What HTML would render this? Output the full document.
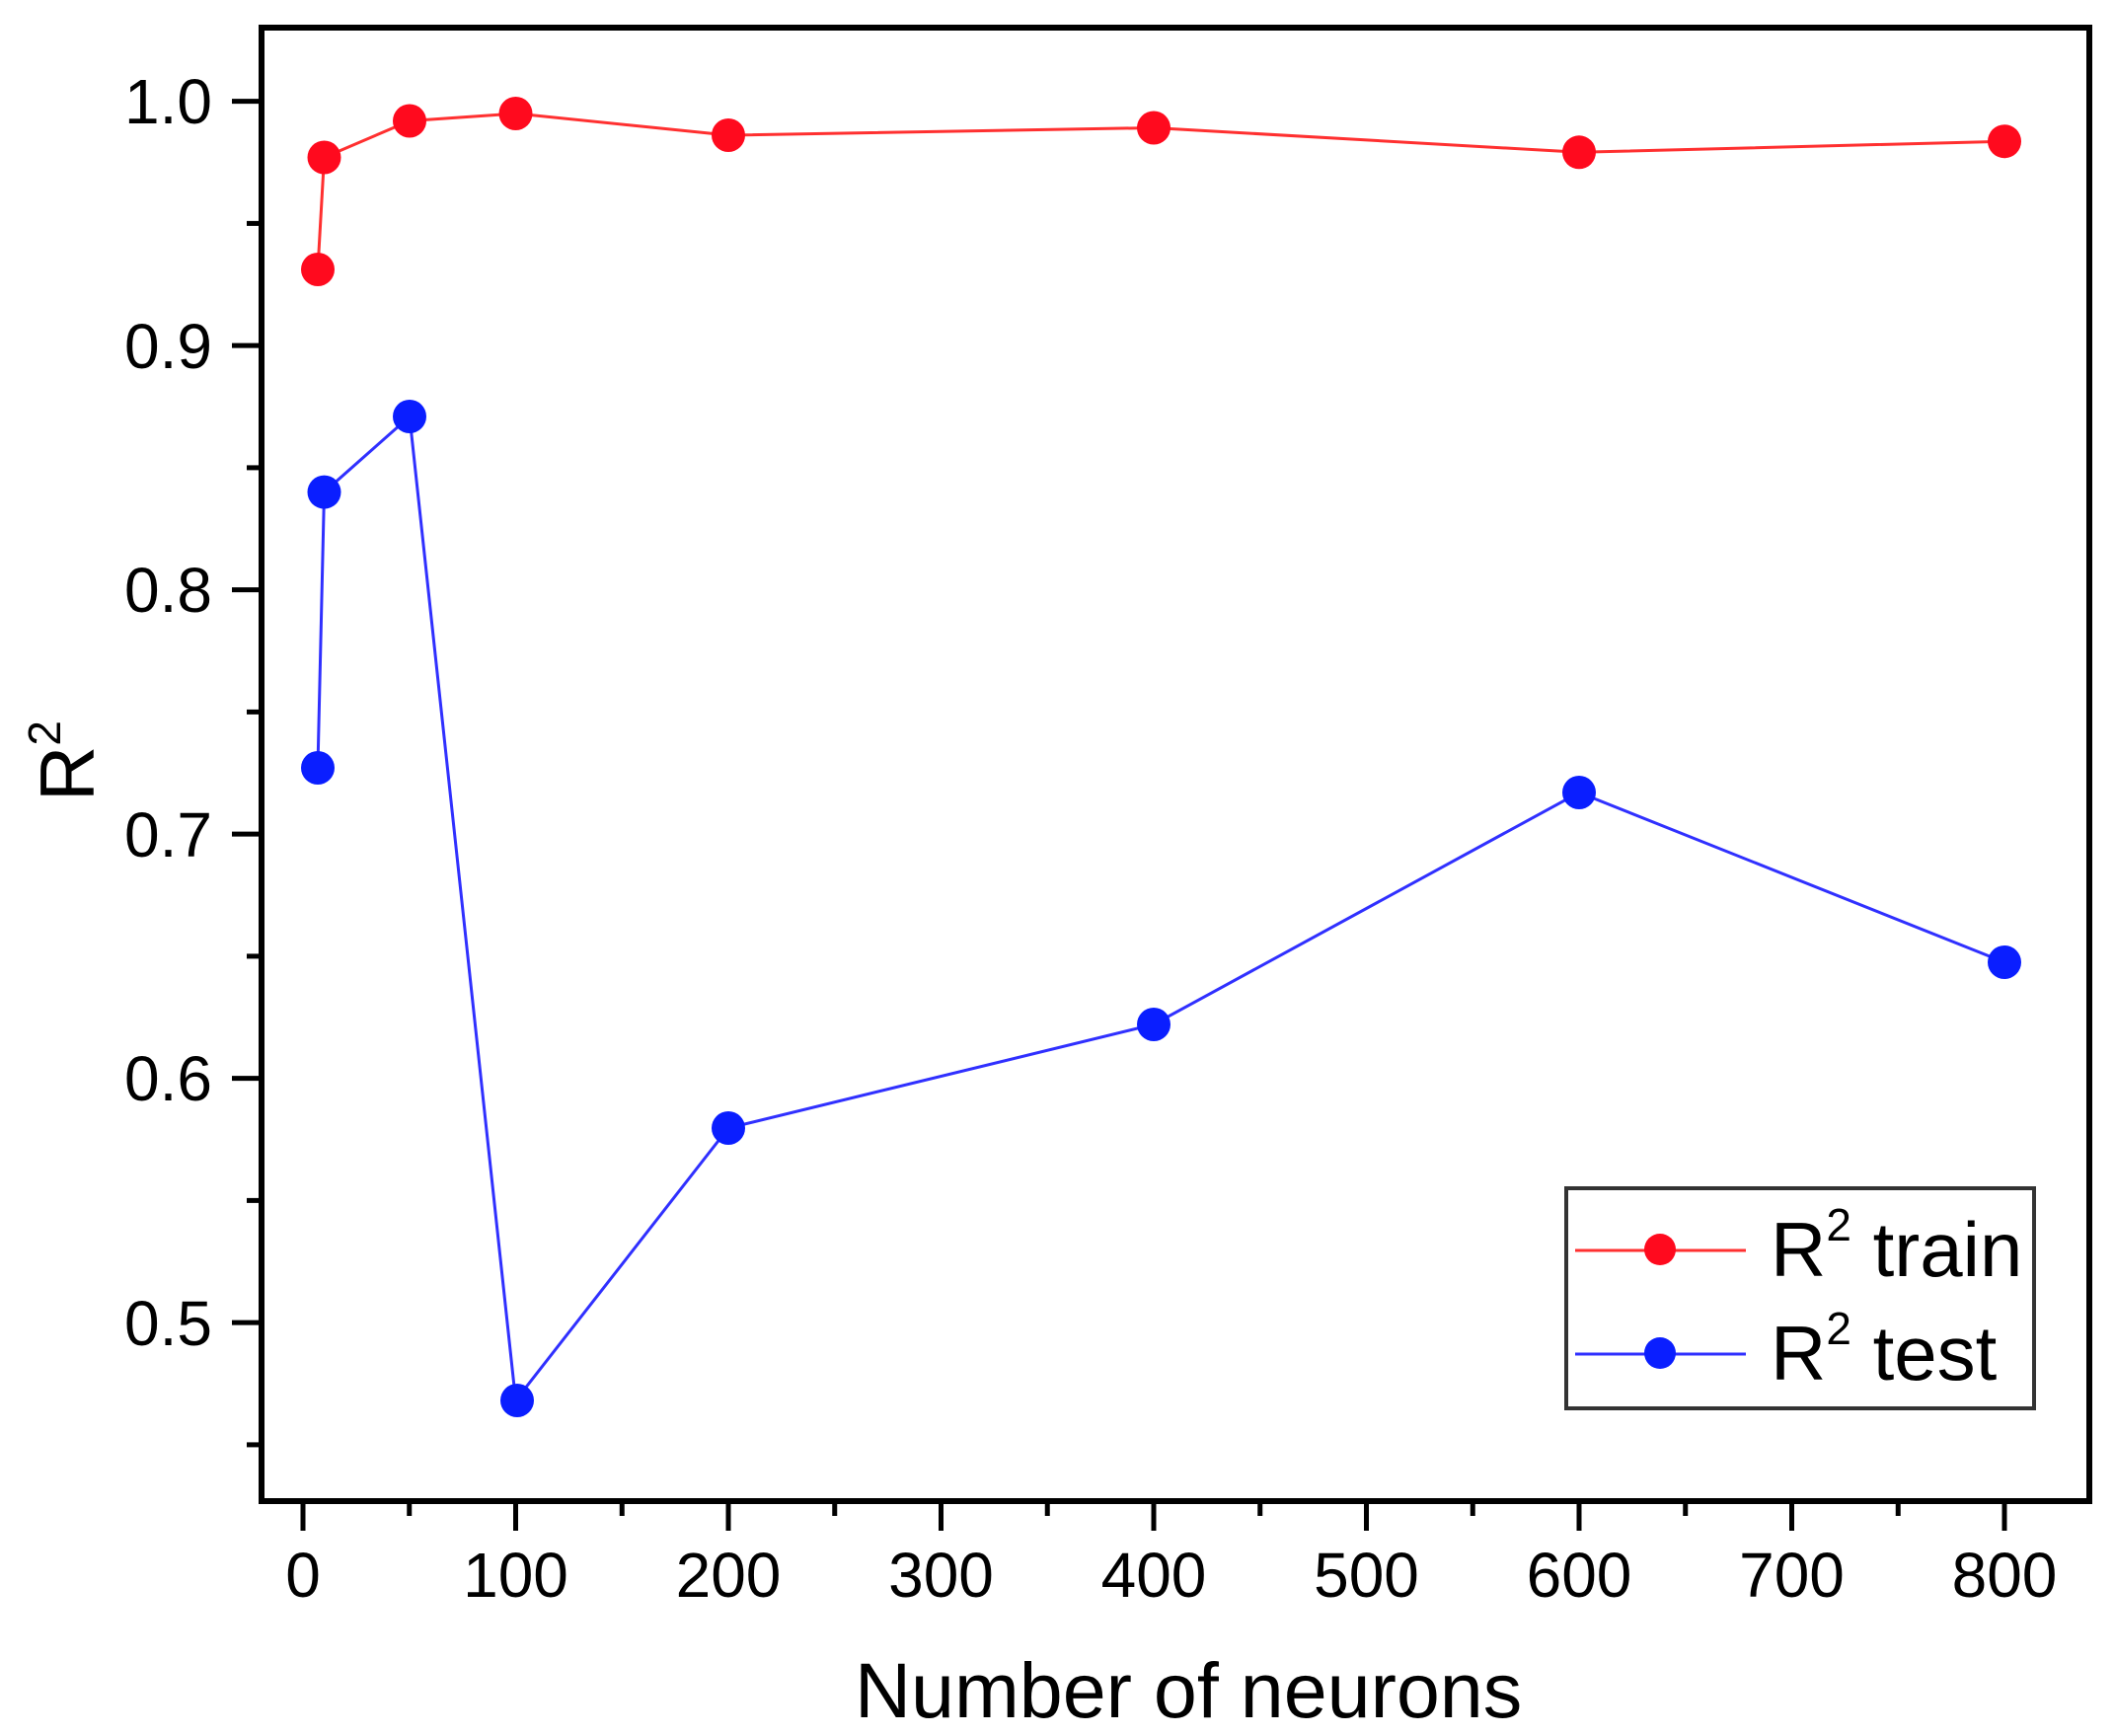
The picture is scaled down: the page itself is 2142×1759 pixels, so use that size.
<!DOCTYPE html>
<html><head><meta charset="utf-8"><style>
html,body{margin:0;padding:0;background:#fff;}
svg{display:block;}
text{font-family:"Liberation Sans",Arial,sans-serif;fill:#000;}
</style></head><body>
<svg width="2142" height="1759" viewBox="0 0 2142 1759" xmlns="http://www.w3.org/2000/svg">
<rect width="2142" height="1759" fill="#fff"/>
<rect x="265" y="28" width="1852" height="1493" fill="none" stroke="#000" stroke-width="6"/>
<g stroke="#000" stroke-width="5">
<line x1="235" y1="102.6" x2="265" y2="102.6"/>
<line x1="235" y1="350.1" x2="265" y2="350.1"/>
<line x1="235" y1="597.6" x2="265" y2="597.6"/>
<line x1="235" y1="845.1" x2="265" y2="845.1"/>
<line x1="235" y1="1092.6" x2="265" y2="1092.6"/>
<line x1="235" y1="1340.1" x2="265" y2="1340.1"/>
<line x1="250" y1="226.4" x2="265" y2="226.4"/>
<line x1="250" y1="473.9" x2="265" y2="473.9"/>
<line x1="250" y1="721.4" x2="265" y2="721.4"/>
<line x1="250" y1="968.9" x2="265" y2="968.9"/>
<line x1="250" y1="1216.4" x2="265" y2="1216.4"/>
<line x1="250" y1="1463.9" x2="265" y2="1463.9"/>
</g>
<g stroke="#000" stroke-width="5">
<line x1="307" y1="1521" x2="307" y2="1551"/>
<line x1="522.5" y1="1521" x2="522.5" y2="1551"/>
<line x1="738" y1="1521" x2="738" y2="1551"/>
<line x1="953.5" y1="1521" x2="953.5" y2="1551"/>
<line x1="1169" y1="1521" x2="1169" y2="1551"/>
<line x1="1384.5" y1="1521" x2="1384.5" y2="1551"/>
<line x1="1600" y1="1521" x2="1600" y2="1551"/>
<line x1="1815.5" y1="1521" x2="1815.5" y2="1551"/>
<line x1="2031" y1="1521" x2="2031" y2="1551"/>
<line x1="414.75" y1="1521" x2="414.75" y2="1536"/>
<line x1="630.25" y1="1521" x2="630.25" y2="1536"/>
<line x1="845.75" y1="1521" x2="845.75" y2="1536"/>
<line x1="1061.25" y1="1521" x2="1061.25" y2="1536"/>
<line x1="1276.75" y1="1521" x2="1276.75" y2="1536"/>
<line x1="1492.25" y1="1521" x2="1492.25" y2="1536"/>
<line x1="1707.75" y1="1521" x2="1707.75" y2="1536"/>
<line x1="1923.25" y1="1521" x2="1923.25" y2="1536"/>
</g>
<g font-size="64" text-anchor="end">
<text x="215" y="125">1.0</text>
<text x="215" y="373">0.9</text>
<text x="215" y="620">0.8</text>
<text x="215" y="868">0.7</text>
<text x="215" y="1115">0.6</text>
<text x="215" y="1363">0.5</text>
</g>
<g font-size="64" text-anchor="middle">
<text x="307" y="1618">0</text>
<text x="522.5" y="1618">100</text>
<text x="738" y="1618">200</text>
<text x="953.5" y="1618">300</text>
<text x="1169" y="1618">400</text>
<text x="1384.5" y="1618">500</text>
<text x="1600" y="1618">600</text>
<text x="1815.5" y="1618">700</text>
<text x="2031" y="1618">800</text>
</g>
<text x="866" y="1740" font-size="79">Number of neurons</text>
<text transform="translate(95,812) rotate(-90)" font-size="78">R<tspan font-size="46" dy="-34">2</tspan></text>
<polyline fill="none" stroke="#ff3030" stroke-width="3" points="322,273 328.5,159.5 415,122.5 522.5,115 738,137 1169,129.5 1600,154.3 2031,143.2"/>
<g fill="#ff0a1e">
<circle cx="322" cy="273" r="17"/><circle cx="328.5" cy="159.5" r="17"/><circle cx="415" cy="122.5" r="17"/><circle cx="522.5" cy="115" r="17"/><circle cx="738" cy="137" r="17"/><circle cx="1169" cy="129.5" r="17"/><circle cx="1600" cy="154.3" r="17"/><circle cx="2031" cy="143.2" r="17"/>
</g>
<polyline fill="none" stroke="#3030ff" stroke-width="3" points="322,778 328.5,498.6 415,422 522.5,1419 738,1143 1169,1038 1600,803 2031,975"/>
<g fill="#0a1eff">
<circle cx="322" cy="778" r="17"/><circle cx="328.5" cy="498.6" r="17"/><circle cx="415" cy="422" r="17"/><circle cx="524" cy="1419" r="17"/><circle cx="738" cy="1143" r="17"/><circle cx="1169" cy="1038" r="17"/><circle cx="1600" cy="803" r="17"/><circle cx="2031" cy="975" r="17"/>
</g>
<rect x="1587" y="1204" width="474" height="223" fill="#fff" stroke="#333" stroke-width="4"/>
<line x1="1596" y1="1267" x2="1769" y2="1267" stroke="#ff3030" stroke-width="3"/>
<circle cx="1682" cy="1266" r="16" fill="#ff0a1e"/>
<line x1="1596" y1="1372" x2="1769" y2="1372" stroke="#3030ff" stroke-width="3"/>
<circle cx="1682" cy="1371" r="16" fill="#0a1eff"/>
<text x="1794" y="1293" font-size="78">R<tspan font-size="46" dy="-36">2</tspan><tspan dy="36"> train</tspan></text>
<text x="1794" y="1398" font-size="78">R<tspan font-size="46" dy="-36">2</tspan><tspan dy="36"> test</tspan></text>
</svg>
</body></html>
